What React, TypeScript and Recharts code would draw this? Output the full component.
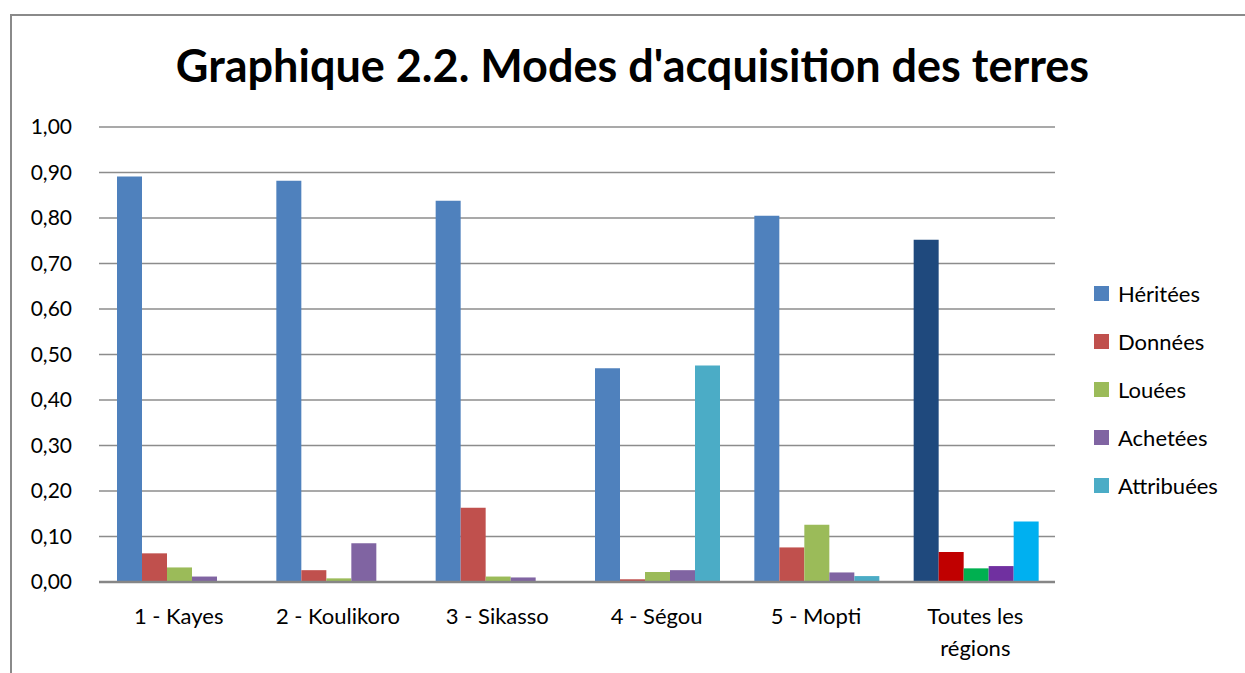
import React from 'react';
import { BarChart, Bar, XAxis, YAxis, CartesianGrid, Cell } from 'recharts';

// ── Data ──────────────────────────────────────────────────────────────────
const REGIONS = ['1 - Kayes', '2 - Koulikoro', '3 - Sikasso', '4 - Ségou', '5 - Mopti', 'Toutes les régions'];
const HERITEES = [0.891, 0.882, 0.838, 0.47, 0.805, 0.752];
const DONNEES = [0.063, 0.026, 0.163, 0.006, 0.076, 0.066];
const LOUEES = [0.032, 0.008, 0.012, 0.022, 0.126, 0.03];
const ACHETEES = [0.012, 0.085, 0.01, 0.026, 0.021, 0.035];
const ATTRIBUEES = [0, 0, 0, 0.476, 0.013, 0.133];
const Y_TICKS = [0, 0.1, 0.2, 0.3, 0.4, 0.5, 0.6, 0.7, 0.8, 0.9, 1.0];

const SERIES = [
  { key: 'heritees', name: 'Héritées', color: '#4F81BD', total: '#1F497D' },
  { key: 'donnees', name: 'Données', color: '#C0504D', total: '#C00000' },
  { key: 'louees', name: 'Louées', color: '#9BBB59', total: '#00B050' },
  { key: 'achetees', name: 'Achetées', color: '#8064A2', total: '#7030A0' },
  { key: 'attribuees', name: 'Attribuées', color: '#4BACC6', total: '#00B0F0' },
];

const data = REGIONS.map((region, i) => ({
  region,
  heritees: HERITEES[i],
  donnees: DONNEES[i],
  louees: LOUEES[i],
  achetees: ACHETEES[i],
  attribuees: ATTRIBUEES[i],
}));

const FONT = 'Lato, "Open Sans", sans-serif';

function wrapLabel(s: string, max: number): string[] {
  const words = s.split(' ');
  const lines: string[] = [];
  let cur = '';
  for (const w of words) {
    if (cur && (cur + ' ' + w).length > max) {
      lines.push(cur);
      cur = w;
    } else {
      cur = cur ? cur + ' ' + w : w;
    }
  }
  if (cur) lines.push(cur);
  return lines;
}

function RegionTick(props: any) {
  const { x, y, payload } = props;
  const lines = wrapLabel(String(payload.value), 13);
  return (
    <text x={x} y={y} textAnchor="middle" fill="#000" fontSize={22} fontFamily={FONT}>
      {lines.map((l, i) => (
        <tspan key={i} x={x} dy={i === 0 ? 34 : 32}>
          {l}
        </tspan>
      ))}
    </text>
  );
}

function LegendBox() {
  return (
    <div style={{ position: 'absolute', left: 1094, top: 269, fontFamily: FONT, fontSize: 22, color: '#000' }}>
      {SERIES.map((s) => (
        <div key={s.key} style={{ display: 'flex', alignItems: 'center', height: 48 }}>
          <span style={{ width: 15, height: 15, background: s.color, marginRight: 9 }} />
          <span>{s.name}</span>
        </div>
      ))}
    </div>
  );
}

export default function App() {
  return (
    <div style={{ position: 'absolute', left: 0, top: 0, width: 1245, height: 673, background: '#fff', overflow: 'hidden' }}>
      <div
        style={{
          position: 'absolute',
          left: 10,
          top: 14,
          width: 1260,
          height: 700,
          borderLeft: '2px solid #8a8a8a',
          borderTop: '2px solid #8a8a8a',
        }}
      />
      <div
        style={{
          position: 'absolute',
          left: 0,
          top: 38,
          width: 1265,
          textAlign: 'center',
          fontFamily: FONT,
          fontWeight: 700,
          fontSize: 45,
          color: '#000',
        }}
      >
        Graphique 2.2. Modes d'acquisition des terres
      </div>
      <div style={{ position: 'absolute', left: 0, top: 0 }}>
        <BarChart
          width={1245}
          height={673}
          data={data}
          margin={{ top: 127, right: 190, bottom: 0, left: 0 }}
          barCategoryGap={18}
          barGap={0}
        >
          <CartesianGrid vertical={false} stroke="#8c8c8c" strokeWidth={1.5} />
          <XAxis
            dataKey="region"
            axisLine={{ stroke: '#868686', strokeWidth: 2.5 }}
            tickLine={false}
            tick={<RegionTick />}
            interval={0}
            height={91}
          />
          <YAxis
            width={99}
            domain={[0, 1]}
            ticks={Y_TICKS}
            axisLine={false}
            tickLine={false}
            tickSize={0}
            tickMargin={27}
            tick={{ fill: '#000', fontSize: 21, fontFamily: FONT }}
            tickFormatter={(v: number) => v.toFixed(2).replace('.', ',')}
          />
          {SERIES.map((s) => (
            <Bar key={s.key} dataKey={s.key} name={s.name} fill={s.color} isAnimationActive={false}>
              {data.map((_, i) => (
                <Cell key={i} fill={i === data.length - 1 ? s.total : s.color} />
              ))}
            </Bar>
          ))}
        </BarChart>
      </div>
      <LegendBox />
    </div>
  );
}
